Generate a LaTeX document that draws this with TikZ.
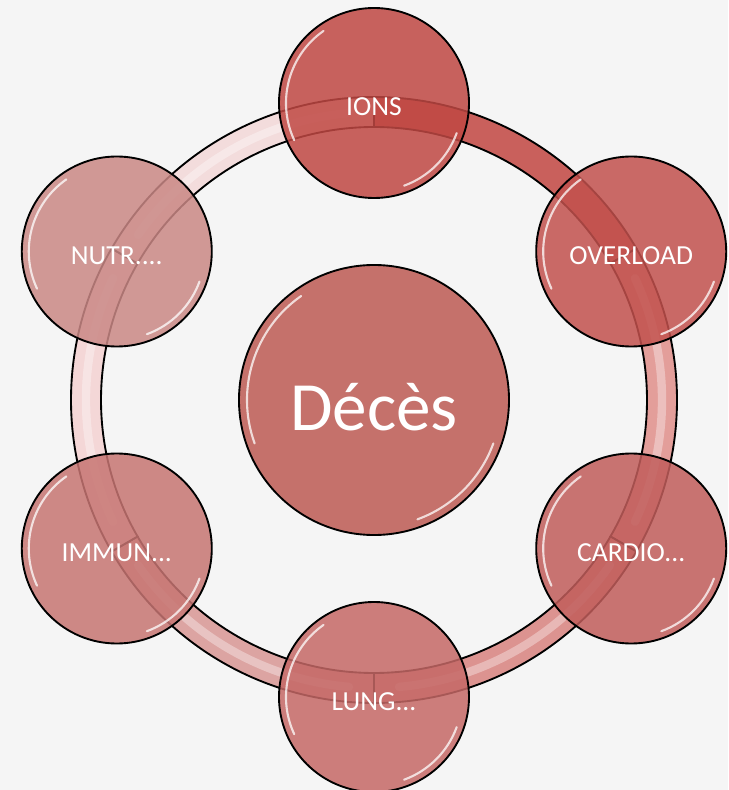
\documentclass[tikz,border=0pt]{standalone}
\usepackage{fontspec}
\setmainfont{Carlito}
\usepackage{tikz}

\definecolor{paper}{HTML}{F5F5F5}
\definecolor{deces}{HTML}{C5716B}
\definecolor{ionsc}{HTML}{C04843}
\definecolor{overc}{HTML}{C2514D}
\definecolor{cardc}{HTML}{C15D5B}
\definecolor{lungc}{HTML}{C56866}
\definecolor{immc}{HTML}{C77572}
\definecolor{nutrc}{HTML}{CA8885}
\definecolor{bandA}{HTML}{C9605C}
\definecolor{bandB}{HTML}{E39E9A}
\definecolor{bandC}{HTML}{DC9390}
\definecolor{bandD}{HTML}{DCA4A2}
\definecolor{bandE}{HTML}{F4D7D7}
\definecolor{bandF}{HTML}{F3DCDC}

\begin{document}
\begin{tikzpicture}[x=0.03cm,y=0.03cm,
	bubble/.style={shape=circle,draw=black,line width=1.6pt,minimum size=5.7cm,inner sep=0pt,
		text=white,font=\fontsize{23.5}{28}\selectfont,text height=0.78cm,text depth=0pt,
		fill opacity=0.85,text opacity=1},
	band/.style={draw=black,line width=1.6pt},
	shine/.style={white,line cap=round,opacity=0.35,line width=0.25cm},
	gloss/.style={white,line cap=round,line width=1.8pt,opacity=0.75}]
			\useasboundingbox (-374,-390) rectangle (354,400);
			\fill[paper] (-374,-390) rectangle (354,400);
			
			% ring pieces
			\draw[band,fill=bandA] (90:303) arc[start angle=90,end angle=30,radius=303] -- (30:273) arc[start angle=30,end angle=90,radius=273] -- cycle;
			\draw[band,fill=bandB] (30:303) arc[start angle=30,end angle=-30,radius=303] -- (-30:273) arc[start angle=-30,end angle=30,radius=273] -- cycle;
			\draw[band,fill=bandC] (-30:303) arc[start angle=-30,end angle=-90,radius=303] -- (-90:273) arc[start angle=-90,end angle=-30,radius=273] -- cycle;
			\draw[band,fill=bandD] (-90:303) arc[start angle=-90,end angle=-150,radius=303] -- (-150:273) arc[start angle=-150,end angle=-90,radius=273] -- cycle;
			\draw[band,fill=bandE] (-150:303) arc[start angle=-150,end angle=-210,radius=303] -- (150:273) arc[start angle=150,end angle=210,radius=273] -- cycle;
			\draw[band,fill=bandF] (150:303) arc[start angle=150,end angle=90,radius=303] -- (90:273) arc[start angle=90,end angle=150,radius=273] -- cycle;
			\draw[shine] (25:288) arc[start angle=25,end angle=-25,radius=288];
			\draw[shine] (-35:288) arc[start angle=-35,end angle=-85,radius=288];
			\draw[shine] (-95:288) arc[start angle=-95,end angle=-145,radius=288];
			\draw[shine] (-155:288) arc[start angle=-155,end angle=-205,radius=288];
			\draw[shine] (145:288) arc[start angle=145,end angle=95,radius=288];
			
			\node[bubble,fill=deces,fill opacity=1,minimum size=8.1cm,font=\fontsize{59}{70}\selectfont,text height=1.81cm] (deces) at (0,0) {Décès};
			\node[bubble,fill=ionsc] (ions) at (90:297) {IONS};
			\node[bubble,fill=overc] (overload) at (30:297) {OVERLOAD};
			\node[bubble,fill=cardc] (cardio) at (-30:297) {CARDIO...};
			\node[bubble,fill=lungc] (lung) at (-90:297) {LUNG...};
			\node[bubble,fill=immc] (immun) at (-150:297) {IMMUN...};
			\node[bubble,fill=nutrc] (nutr) at (150:297) {NUTR....};
			
			% glossy rims
			\draw[gloss] ([shift={(125:127)}]deces.center) arc[start angle=125,end angle=200,radius=127];
			\draw[gloss] ([shift={(-20:127)}]deces.center) arc[start angle=-20,end angle=-70,radius=127];
			\draw[gloss] ([shift={(125:88)}]ions.center) arc[start angle=125,end angle=205,radius=88];
			\draw[gloss] ([shift={(-20:88)}]ions.center) arc[start angle=-20,end angle=-70,radius=88];
			\draw[gloss] ([shift={(125:88)}]overload.center) arc[start angle=125,end angle=205,radius=88];
			\draw[gloss] ([shift={(-20:88)}]overload.center) arc[start angle=-20,end angle=-70,radius=88];
			\draw[gloss] ([shift={(125:88)}]cardio.center) arc[start angle=125,end angle=205,radius=88];
			\draw[gloss] ([shift={(-20:88)}]cardio.center) arc[start angle=-20,end angle=-70,radius=88];
			\draw[gloss] ([shift={(125:88)}]lung.center) arc[start angle=125,end angle=205,radius=88];
			\draw[gloss] ([shift={(-20:88)}]lung.center) arc[start angle=-20,end angle=-70,radius=88];
			\draw[gloss] ([shift={(125:88)}]immun.center) arc[start angle=125,end angle=205,radius=88];
			\draw[gloss] ([shift={(-20:88)}]immun.center) arc[start angle=-20,end angle=-70,radius=88];
			\draw[gloss] ([shift={(125:88)}]nutr.center) arc[start angle=125,end angle=205,radius=88];
			\draw[gloss] ([shift={(-20:88)}]nutr.center) arc[start angle=-20,end angle=-70,radius=88];
		\end{tikzpicture}
\end{document}
